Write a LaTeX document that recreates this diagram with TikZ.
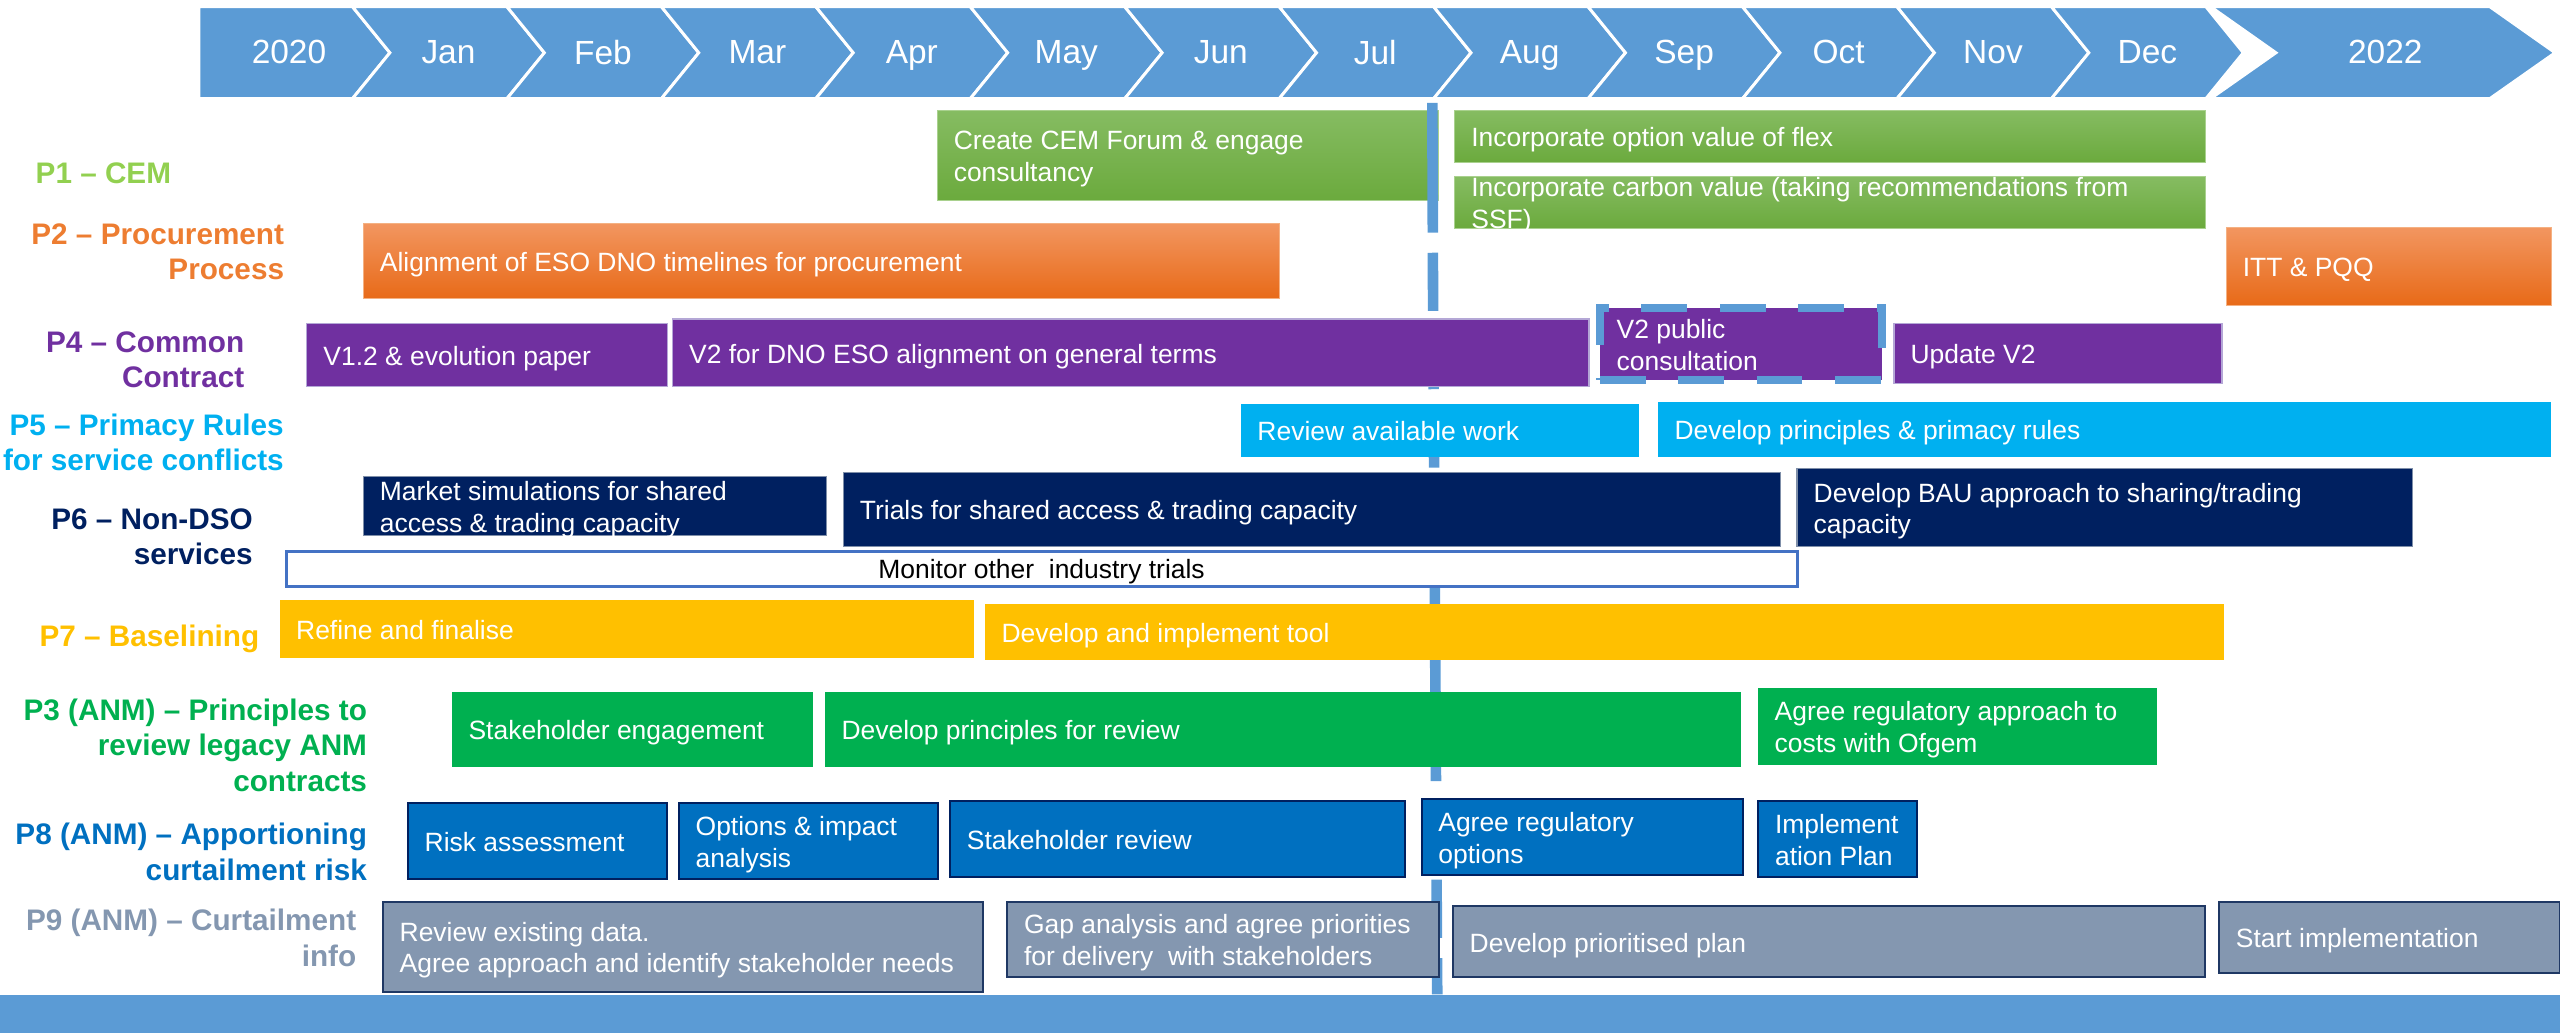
\documentclass[tikz,border=0pt]{standalone}
\usepackage{fontspec}
\setmainfont{Liberation Sans}
\definecolor{tl}{HTML}{5B9BD5}
\definecolor{cemA}{HTML}{86BC62}
\definecolor{cemB}{HTML}{6BAA3D}
\definecolor{cemL}{HTML}{A9D18E}
\definecolor{orA}{HTML}{F29660}
\definecolor{orB}{HTML}{E86A18}
\definecolor{orL}{HTML}{F4B183}
\definecolor{pur}{HTML}{7030A0}
\definecolor{purL}{HTML}{B4A7D6}
\definecolor{cya}{HTML}{00B0F0}
\definecolor{navy}{HTML}{002060}
\definecolor{navyL}{HTML}{7F8FA9}
\definecolor{gold}{HTML}{FFC000}
\definecolor{grn}{HTML}{00B050}
\definecolor{blu}{HTML}{0070C0}
\definecolor{bluD}{HTML}{002060}
\definecolor{gry}{HTML}{8497B0}
\definecolor{gryD}{HTML}{1F3864}
\definecolor{monB}{HTML}{4472C4}
\definecolor{cP1}{HTML}{92D050}
\definecolor{cP2}{HTML}{ED7D31}
\newcommand\tstrut{\rule[-4pt]{0pt}{14pt}}
\newcommand\lstrut{\rule[-4.5pt]{0pt}{15.5pt}}
\newcommand\mstrut{\rule[-4pt]{0pt}{18.6pt}}
\newcommand\tb[7]{%
  \pgfmathsetmacro\tbw{#4-#2}%
  \pgfmathsetmacro\tbh{#5-#3}%
  \node[boxs,#6,minimum width=\tbw pt,minimum height=\tbh pt,anchor=north west] (#1) at (#2,#3) {};%
  \node[txt,anchor=west] (#1t) at ([xshift=10pt,yshift=-2.5pt]#1.west) {\tstrut#7\tstrut};%
}
\tikzset{
  chev/.style={fill=tl, draw=white, line width=1.8pt, line join=miter},
  monlab/.style={inner sep=0pt, text=white, font=\fontsize{20.5}{24}\selectfont},
  lab/.style={inner sep=0pt, align=right, anchor=east, font=\fontsize{18.2}{21.7}\selectfont\bfseries},
  boxs/.style={inner sep=0pt, outer sep=0pt},
  txt/.style={inner sep=0pt, text=white, align=left, font=\fontsize{16.2}{19.5}\selectfont},
  fGreen/.style={top color=cemA, bottom color=cemB, draw=cemL, line width=0.6pt},
  fOrange/.style={top color=orA, bottom color=orB, draw=orL, line width=0.6pt},
  fPurple/.style={fill=pur, draw=purL, line width=0.8pt},
  fPurDash/.style={fill=pur, draw=tl, line width=4.5pt, dash pattern=on 28pt off 20pt},
  fCyan/.style={fill=cya},
  fNavy/.style={fill=navy, draw=navyL, line width=0.8pt},
  fMon/.style={fill=white, draw=monB, line width=1.8pt},
  fGold/.style={fill=gold},
  fGrn/.style={fill=grn},
  fBlue/.style={fill=blu, draw=bluD, line width=1.2pt},
  fGrey/.style={fill=gry, draw=gryD, line width=1.2pt},
  vline/.style={tl, line width=6.5pt}
}
\begin{document}
\begin{tikzpicture}[x=1pt,y=-1pt]
\useasboundingbox (0,0) rectangle (1568,633);
% timeline
\filldraw[chev] (121.9,4.1) -- (215.9,4.1) -- (238.8,32.3) -- (215.9,60.4) -- (121.9,60.4) -- cycle;
\node[monlab] (m0) at (177,33.8) {\mstrut 2020};
\foreach \i/\m in {1/Jan,2/Feb,3/Mar,4/Apr,5/May,6/Jun,7/Jul,8/Aug,9/Sep,10/Oct,11/Nov,12/Dec}{
  \pgfmathsetmacro\ba{215.9+94.6*(\i-1)}
  \pgfmathsetmacro\bb{\ba+94.6}
  \pgfmathsetmacro\bc{(\ba+\bb)/2+11.5}
  \filldraw[chev] (\ba,4.1) -- (\bb,4.1) -- (\bb+22.9,32.3) -- (\bb,60.4) -- (\ba,60.4) -- (\ba+22.9,32.3) -- cycle;
  \node[monlab] (m\i) at (\bc,33.8) {\mstrut\m};
}
\filldraw[chev] (1354,4.1) -- (1525,4.1) -- (1565,32.3) -- (1525,60.4) -- (1354,60.4) -- (1394,32.3) -- cycle;
\node[monlab] (m13) at (1461,33.8) {\mstrut 2022};
% row labels
\node[lab,text=cP1] (l1) at (105,108.5) {\lstrut P1 – CEM\lstrut};
\node[lab,text=cP2] (l2) at (174.2,156.5) {\lstrut P2 – Procurement\\Process\lstrut};
\node[lab,text=pur] (l4) at (149.8,222.5) {\lstrut P4 – Common\\Contract\lstrut};
\node[lab,text=cya] (l5) at (174,273) {\lstrut P5 – Primacy Rules\\for service conflicts\lstrut};
\node[lab,text=navy] (l6) at (155,331) {\lstrut P6 – Non-DSO\\services\lstrut};
\node[lab,text=gold] (l7) at (159,391.5) {\lstrut P7 – Baselining\lstrut};
\node[lab,text=grn] (l3) at (225,458.5) {\lstrut P3 (ANM) – Principles to\\review legacy ANM\\contracts\lstrut};
\node[lab,text=blu] (l8) at (225,524) {\lstrut P8 (ANM) – Apportioning\\curtailment risk\lstrut};
\node[lab,text=gry] (l9) at (218.4,576.5) {\lstrut P9 (ANM) – Curtailment\\info\lstrut};
% P1
\tb{cem1}{574}{67.4}{881}{122.9}{fGreen}{Create CEM Forum \& engage\\consultancy}
% milestone line
\draw[vline] (877.3,63) -- (877.6,142.5);
\draw[vline, dash pattern=on 35.6pt off 12.4pt] (877.6,154.8) -- (880.3,609);
\tb{cem2}{891}{67.4}{1350.6}{99.5}{fGreen}{Incorporate option value of flex}
\tb{cem3}{891}{107.8}{1350.6}{139.8}{fGreen}{Incorporate carbon value (taking recommendations from\\SSF)}
% P2
\tb{proc1}{222.5}{136.8}{783.7}{183.1}{fOrange}{Alignment of ESO DNO timelines for procurement}
\tb{proc2}{1363.5}{139.2}{1562.6}{186.8}{fOrange}{ITT \& PQQ}
% P4
\tb{cc1}{187.9}{198}{408.8}{236.8}{fPurple}{V1.2 \& evolution paper}
\tb{cc2}{411.9}{195.4}{973.3}{236.8}{fPurple}{V2 for DNO ESO alignment on general terms}
\tb{cc3}{980}{188.7}{1152.7}{232.7}{fPurDash}{V2 public\\consultation}
\tb{cc4}{1160}{198}{1361}{235}{fPurple}{Update V2}
% P5
\tb{pr1}{760}{247.5}{1004}{279.7}{fCyan}{Review available work}
\tb{pr2}{1015.5}{246}{1562.5}{279.7}{fCyan}{Develop principles \& primacy rules}
% P6
\tb{nd1}{222.5}{292}{506.3}{328}{fNavy}{Market simulations for shared\\access \& trading capacity}
\tb{nd2}{516.5}{289.3}{1090.6}{334.8}{fNavy}{Trials for shared access \& trading capacity}
\tb{nd3}{1100.7}{286.9}{1477.7}{334.8}{fNavy}{Develop BAU approach to sharing/trading\\capacity}
\node[boxs,fMon,minimum width=925.5pt,minimum height=21.3pt,anchor=north west] (mon) at (175.2,338) {};
\node[txt,text=black] (mont) at ([yshift=-2pt]mon.center) {\tstrut Monitor other\ \ industry trials\tstrut};
% P7
\tb{bl1}{171.2}{367.5}{596.8}{402.8}{fGold}{Refine and finalise}
\tb{bl2}{603.3}{370}{1362.2}{404.2}{fGold}{Develop and implement tool}
% P3
\tb{an1}{276.8}{424}{497.7}{469.6}{fGrn}{Stakeholder engagement}
\tb{an2}{505.3}{424}{1066.3}{469.6}{fGrn}{Develop principles for review}
\tb{an3}{1076.8}{421.4}{1321.1}{468.3}{fGrn}{Agree regulatory approach to\\costs with Ofgem}
% P8
\tb{ap1}{249.9}{492}{408.8}{538.4}{fBlue}{Risk assessment}
\tb{ap2}{415.9}{492}{574.4}{538.4}{fBlue}{Options \& impact\\analysis}
\tb{ap3}{582}{490.8}{860.6}{537}{fBlue}{Stakeholder review}
\tb{ap4}{870.8}{489.6}{1067.3}{536}{fBlue}{Agree regulatory\\options}
\tb{ap5}{1077}{490.6}{1174.4}{537}{fBlue}{Implement\\ation Plan}
% P9
\tb{ci1}{234.6}{552.2}{601.8}{607.4}{fGrey}{Review existing data.\\Agree approach and identify stakeholder needs}
\tb{ci2}{617}{552.2}{881.4}{598.2}{fGrey}{Gap analysis and agree priorities\\for delivery\ \ with stakeholders}
\tb{ci3}{890}{555}{1350.7}{598.6}{fGrey}{Develop prioritised plan}
\tb{ci4}{1359.3}{552.2}{1568}{595.7}{fGrey}{Start implementation}
% bottom bar
\fill[tl] (0,609.4) rectangle (1568,633);
\end{tikzpicture}
\end{document}
